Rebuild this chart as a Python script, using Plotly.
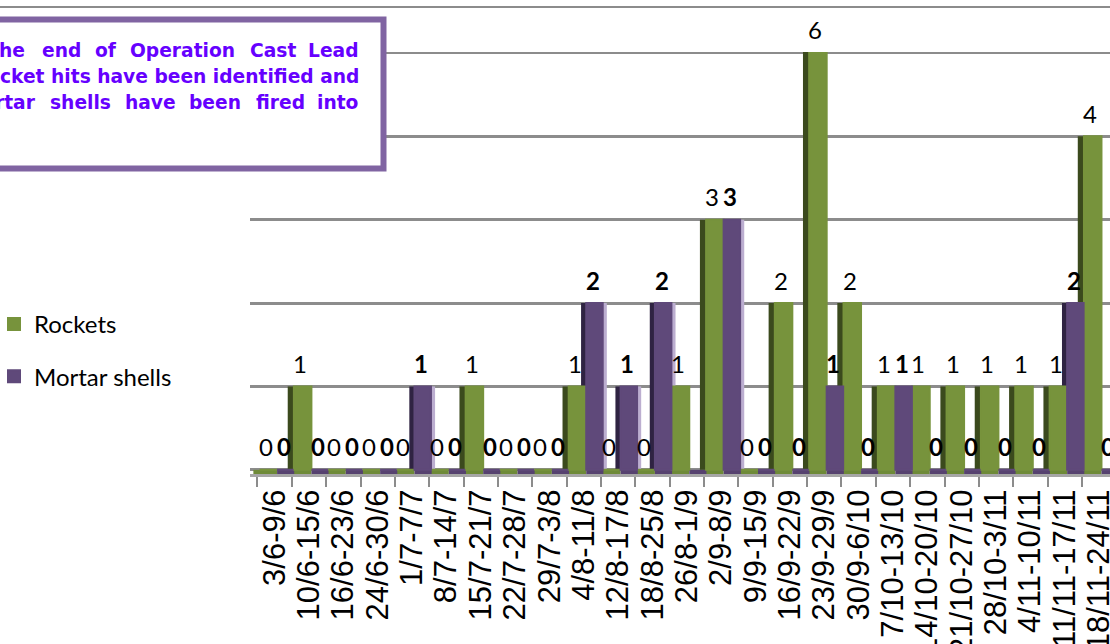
import plotly.graph_objects as go

# Weekly counts (June - November)
categories = [
    "3/6-9/6", "10/6-15/6", "16/6-23/6", "24/6-30/6", "1/7-7/7", "8/7-14/7",
    "15/7-21/7", "22/7-28/7", "29/7-3/8", "4/8-11/8", "12/8-17/8", "18/8-25/8",
    "26/8-1/9", "2/9-8/9", "9/9-15/9", "16/9-22/9", "23/9-29/9", "30/9-6/10",
    "7/10-13/10", "14/10-20/10", "21/10-27/10", "28/10-3/11", "4/11-10/11",
    "11/11-17/11", "18/11-24/11",
]
rockets = [0, 1, 0, 0, 0, 0, 1, 0, 0, 1, 0, 0, 1, 3, 0, 2, 6, 2, 1, 1, 1, 1, 1, 1, 4]
mortars = [0, 0, 0, 0, 1, 0, 0, 0, 0, 2, 1, 2, None, 3, 0, 0, 1, 0, 1, 0, 0, 0, 0, 2, 0]

Y_MAX = 5          # value axis is capped, taller columns are cut at the top
FLOOR = 0.05       # thickness of the floor slab under each column

GREEN = "#77933C"
GREEN_SIDE = "#3B4A1D"
PURPLE = "#5F497A"
PURPLE_SIDE = "#2F2342"
PURPLE_GLOW = "#BCAED0"
GRID = "#8C8C8C"

W, H = 1110, 644
L, R, T, B = 250, 0, 52, 170
PW, PH = W - L - R, H - T - B


def px_x(px):
    return (px - L) / PW


def px_y(py):
    return (H - B - py) / PH


fig = go.Figure()

# floor slabs
fig.add_bar(x=categories, y=[FLOOR] * len(categories), base=-FLOOR, offset=-0.62, width=0.69,
            marker=dict(color="#6E8A38", line=dict(width=0)), showlegend=False, hoverinfo="skip")
fig.add_bar(x=categories, y=[FLOOR] * len(categories), base=-FLOOR, offset=0.07, width=0.5,
            marker=dict(color="#56426F", line=dict(width=0)), showlegend=False, hoverinfo="skip")

# column sides (pseudo 3D)
fig.add_bar(x=categories, y=mortars, offset=0.55, width=0.12,
            marker=dict(color=PURPLE_GLOW, line=dict(width=0)), showlegend=False, hoverinfo="skip")
fig.add_bar(x=categories, y=rockets, offset=-0.62, width=0.2,
            marker=dict(color=GREEN_SIDE, line=dict(width=0)), showlegend=False, hoverinfo="skip")
fig.add_bar(x=categories, y=mortars, offset=-0.08, width=0.16,
            marker=dict(color=PURPLE_SIDE, line=dict(width=0)), showlegend=False, hoverinfo="skip")

# column fronts
fig.add_bar(x=categories, y=rockets, offset=-0.44, width=0.51, name="Rockets",
            legendgroup="r", marker=dict(color=GREEN, line=dict(color=GREEN, width=2)))
fig.add_bar(x=categories, y=mortars, offset=0.07, width=0.48, name="Mortar shells",
            legendgroup="m", marker=dict(color=PURPLE, line=dict(color=PURPLE, width=2)))

annotations = []
label_font = dict(family="Lato", size=24, color="#000000")
for c, v in zip(categories, rockets):
    if v is None:
        continue
    annotations.append(dict(x=c, y=min(v, Y_MAX), xref="x", yref="y", text=str(v),
                            showarrow=False, xshift=-9, yshift=23, yanchor="middle",
                            font=label_font))
for c, v in zip(categories, mortars):
    if v is None:
        continue
    annotations.append(dict(x=c, y=min(v, Y_MAX), xref="x", yref="y", text=f"<b>{v}</b>",
                            showarrow=False, xshift=9, yshift=23, yanchor="middle",
                            font=label_font))

# note box text (justified lines laid out word by word)
note_font = dict(family="DejaVu Sans", size=18.67, color="#6600FF")
note_words = [
    ("he", 26, 50, "right"), ("end", 40.7, 50, "left"), ("of", 94.3, 50, "left"),
    ("Operation", 129.3, 50, "left"), ("Cast", 249.3, 50, "left"), ("Lead", 360, 50, "right"),
    ("cket hits have been identified and", 360, 76, "right"),
    ("rtar", 37, 102, "right"), ("shells", 49, 102, "left"), ("have", 124, 102, "left"),
    ("been", 188, 102, "left"), ("fired", 255, 102, "left"), ("into", 360, 102, "right"),
]
for word, xp, yp, anchor in note_words:
    annotations.append(dict(x=px_x(xp), y=px_y(yp), xref="paper", yref="paper",
                            text=f"<b>{word}</b>", showarrow=False, xanchor=anchor,
                            yanchor="middle", borderpad=0, font=note_font))

shapes = [
    # gridline at the top of the value axis
    dict(type="line", xref="paper", yref="y", x0=0, x1=1, y0=Y_MAX, y1=Y_MAX,
         line=dict(color=GRID, width=2.5), layer="below"),
    dict(type="line", xref="paper", yref="paper", x0=px_x(0), x1=px_x(W), y0=px_y(7), y1=px_y(7),
         line=dict(color=GRID, width=2), layer="above"),
    dict(type="rect", xref="paper", yref="paper", x0=px_x(-40), x1=px_x(383.5),
         y0=px_y(168.5), y1=px_y(19.5), line=dict(color="#8064A2", width=6),
         fillcolor="#FFFFFF", layer="above"),
]

fig.update_layout(
    width=W, height=H,
    margin=dict(l=L, r=R, t=T, b=B, autoexpand=False),
    paper_bgcolor="#FFFFFF", plot_bgcolor="#FFFFFF",
    barmode="overlay",
    showlegend=True,
    legend=dict(x=px_x(-6), y=px_y(302), xanchor="left", yanchor="top",
                font=dict(family="Lato", size=24, color="#000000"),
                tracegroupgap=18, traceorder="grouped", bgcolor="rgba(0,0,0,0)"),
    annotations=annotations,
    shapes=shapes,
    xaxis=dict(type="category", categoryorder="array", categoryarray=categories,
               tickmode="array", tickvals=categories, ticktext=categories,
               range=[-0.718, 24.318], tickson="boundaries", ticks="outside",
               ticklen=10, tickwidth=2, tickcolor=GRID, showline=True,
               linecolor="#A6A6A6", linewidth=3, tickangle=-90, showgrid=False,
               automargin=False, zeroline=False,
               tickfont=dict(family="Liberation Sans", size=31, color="#000000")),
    yaxis=dict(range=[-FLOOR, Y_MAX + 0.01], tick0=0, dtick=1, showgrid=True,
               gridcolor=GRID, gridwidth=2.5, showticklabels=False,
               zeroline=False, showline=False, ticks="", automargin=False),
)

fig.write_html("out.html")
